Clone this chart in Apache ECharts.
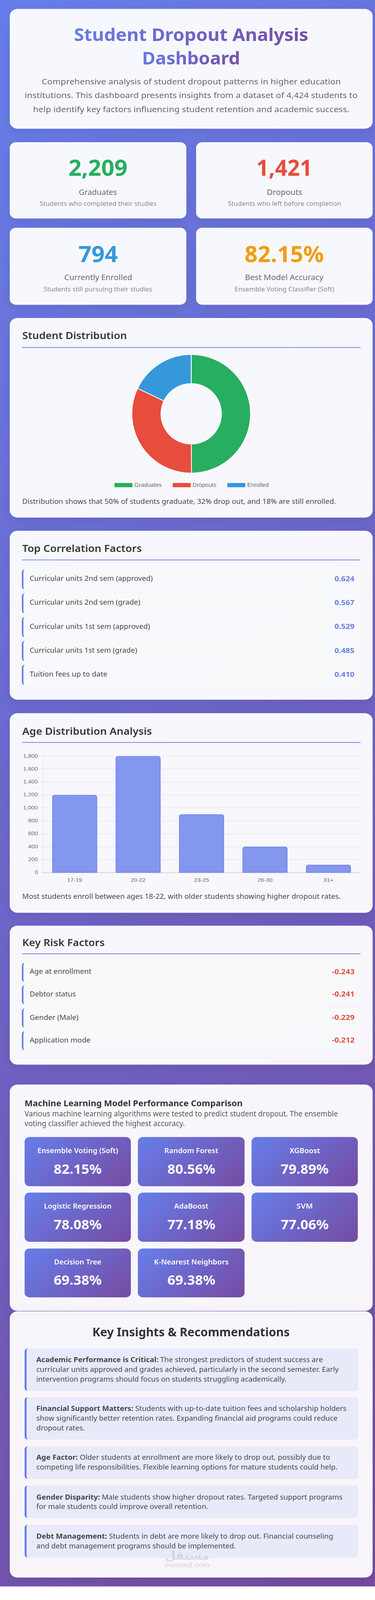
<!DOCTYPE html>
<html><head><meta charset="utf-8">
<script src="https://cdn.jsdelivr.net/npm/echarts@6/dist/echarts.min.js"></script>
<style>
html,body{margin:0;padding:0;background:#fff;font-family:"Noto Sans",sans-serif;overflow:hidden}
#frame{position:relative;width:960px;height:100vh;overflow:hidden}
#page{position:absolute;left:0;top:0;width:960px;height:4489px;overflow:hidden;transform-origin:0 0}
#bg{position:absolute;left:0;top:0;width:960px;height:4451px;background:linear-gradient(135deg,#667eea 0%,#764ba2 100%)}
.box{position:absolute;box-sizing:border-box}
.card{background:rgba(255,255,255,.95);border-radius:20px;box-shadow:0 8px 30px rgba(0,0,0,.08)}
.t{position:absolute;white-space:nowrap;line-height:1}
.item{background:#f8f9fb;border-left:4px solid #667eea;border-radius:8px}
.tile{background:linear-gradient(135deg,#667eea,#764ba2);border-radius:13px}
.ins{background:rgba(102,126,234,.1);border-left:5px solid #667eea;border-radius:8px}
.rule{background:#667eea;height:2px}
</style></head><body>
<div id="frame"><div id="page">
<div id="bg"></div>
<div id="root"></div>
<div id="pie" class="box" style="left:56px;top:985px;width:867px;height:390px"></div>
<div id="bar" class="box" style="left:56px;top:2100px;width:867px;height:390px"></div>
</div></div>
<script>
// the window may be shorter than the 4489px reference: fit the full page to it
const fitK=Math.min(1,innerHeight/4489);
document.getElementById('page').style.transform=`scaleY(${fitK})`;
// ---- data ----
const pageTitle=["Student Dropout Analysis","Dashboard"];
const pageIntro=["Comprehensive analysis of student dropout patterns in higher education","institutions. This dashboard presents insights from a dataset of 4,424 students to","help identify key factors influencing student retention and academic success."];
const statValues=["2,209","1,421","794","82.15%"];
const statLabels=["Graduates","Dropouts","Currently Enrolled","Best Model Accuracy"];
const statNotes=["Students who completed their studies","Students who left before completion","Students still pursuing their studies","Ensemble Voting Classifier (Soft)"];
const statColors=["#27ae60","#e74c3c","#3498db","#f39c12"];
const pieNames=["Graduates","Dropouts","Enrolled"];
const pieValues=[2209,1421,794];
const pieColors=["#27ae60","#e74c3c","#3498db"];
const corrNames=["Curricular units 2nd sem (approved)","Curricular units 2nd sem (grade)","Curricular units 1st sem (approved)","Curricular units 1st sem (grade)","Tuition fees up to date"];
const corrValues=["0.624","0.567","0.529","0.485","0.410"];
const ageCategories=["17-19","20-22","23-25","26-30","31+"];
const ageValues=[1200,1800,900,400,120];
const riskNames=["Age at enrollment","Debtor status","Gender (Male)","Application mode"];
const riskValues=["-0.243","-0.241","-0.229","-0.212"];
const modelNames=["Ensemble Voting (Soft)","Random Forest","XGBoost","Logistic Regression","AdaBoost","SVM","Decision Tree","K-Nearest Neighbors"];
const modelScores=["82.15%","80.56%","79.89%","78.08%","77.18%","77.06%","69.38%","69.38%"];
const insights=[
 ["<b>Academic Performance is Critical:</b> The strongest predictors of student success are","curricular units approved and grades achieved, particularly in the second semester. Early","intervention programs should focus on students struggling academically."],
 ["<b>Financial Support Matters:</b> Students with up-to-date tuition fees and scholarship holders","show significantly better retention rates. Expanding financial aid programs could reduce","dropout rates."],
 ["<b>Age Factor:</b> Older students at enrollment are more likely to drop out, possibly due to","competing life responsibilities. Flexible learning options for mature students could help."],
 ["<b>Gender Disparity:</b> Male students show higher dropout rates. Targeted support programs","for male students could improve overall retention."],
 ["<b>Debt Management:</b> Students in debt are more likely to drop out. Financial counseling","and debt management programs should be implemented."]];

// ---- layout helpers ----
const root=document.getElementById('root');
function B(cls,x,y,x2,y2,extra){const d=document.createElement('div');d.className='box '+cls;d.style.cssText=`left:${x}px;top:${y}px;width:${x2-x}px;height:${y2-y}px;`+(extra||'');root.appendChild(d);return d;}
function T(html,x,cy,size,weight,color,align,w,extra){
 const d=document.createElement('div');d.className='t';d.innerHTML=html;
 d.style.cssText=`font-size:${size}px;font-weight:${weight};color:${color};top:${cy-size*0.58}px;left:0;`+(extra||'');
 root.appendChild(d);
 const ow=d.getBoundingClientRect().width;
 const left=align==='c'?x-ow/2:align==='r'?x-ow:x;
 d.style.left=left+'px';
 if(w){d.style.transformOrigin=align==='c'?'center':align==='r'?'right':'left';d.style.transform=`scaleX(${w/ow})`;}
 return d;
}
// header
B('card',25,25,954,361);
const grad='background:linear-gradient(135deg,#667eea,#764ba2);-webkit-background-clip:text;background-clip:text;color:transparent;padding:0 0 10px;';
T(pageTitle[0],489.5,100,49,700,'#667eea','c',600,grad);
T(pageTitle[1],489.5,166,49,700,'#6f5fc0','c',251,grad);
const introW=[766,852,810],introY=[230,268,307];
pageIntro.forEach((s,i)=>T(s,489.5,introY[i],22,400,'#666','c',introW[i]));
// stats
const sx=[[25,477],[502,954]],sy=[[399,613],[639,855]];
const valW=[151,143,101,203],labW=[98,91,174,201],noteW=[299,290,278,255];
const valY=[474,715.5],labY=[540,779],noteY=[572,812];
statValues.forEach((v,i)=>{const c=i%2,r=i>>1,cx=(sx[c][0]+sx[c][1])/2;
 B('card',sx[c][0],sy[r][0],sx[c][1],sy[r][1],'border-radius:16px');
 T(v,cx,valY[r],62,700,statColors[i],'c',valW[i]);
 T(statLabels[i],cx,labY[r],22,400,'#666','c',labW[i]);
 T(statNotes[i],cx,noteY[r],18,400,'#888','c',noteW[i]);
});
function sect(title,top,bottom,cy,ry,w){B('card',25,top,954,bottom);T(title,56.5,cy,27,600,'#333','l',w);B('rule',56,ry,923,ry+2);}
sect('Student Distribution',892,1452,943,973.5,268);
T('Distribution shows that 50% of students graduate, 32% drop out, and 18% are still enrolled.',56.5,1409,20,400,'#444','l',803);
sect('Top Correlation Factors',1489,1963,1541,1570,306);
const corrW=[315,283,308,275,199];
corrNames.forEach((n,i)=>{const y=1597+i*67;B('item',56,y,923,y+57.4);T(n,76,y+28.5,19,400,'#444','l',corrW[i]);T(corrValues[i],907.5,y+28.5,20,700,'#667eea','r',51);});
sect('Age Distribution Analysis',2001,2561,2053,2082,332);
T('Most students enroll between ages 18-22, with older students showing higher dropout rates.',56.5,2517,20,400,'#444','l',815);
sect('Key Risk Factors',2597,2987,2646,2674.5,211);
const riskW=[158,118,125,156],riskY=[2700.5,2764,2829,2893];
riskNames.forEach((n,i)=>{const y=riskY[i];B('item',56,y,923,y+54.2);T(n,76,y+27,19,400,'#444','l',riskW[i]);T(riskValues[i],907.5,y+27,20,700,'#e74c3c','r',58);});
// models
B('card',25,3043,954,3678);
T('Machine Learning Model Performance Comparison',63,3097,24,700,'#333','l',558);
T('Various machine learning algorithms were tested to predict student dropout. The ensemble',63,3126,21,400,'#555','l',802);
T('voting classifier achieved the highest accuracy.',63,3154,21,400,'#555','l',410);
const mx=[[63,335],[353,626],[644,916]],my=[[3190,3328],[3346,3484],[3503,3640]];
const nameW=[207,138,78,173,88,42,121,191];
const nameY=[3230,3386,3543],scoreY=[3281,3437,3593];
modelNames.forEach((n,i)=>{const c=i%3,r=Math.floor(i/3),cx=(mx[c][0]+mx[c][1])/2;
 B('tile',mx[c][0],my[r][0],mx[c][1],my[r][1]);
 T(n,cx,nameY[r],20,600,'#fff','c',nameW[i]);
 T(modelScores[i],cx,scoreY[r],38,700,'#fff','c',123);
});
// insights
B('card',25,3678.5,954,4426);
T('Key Insights &amp; Recommendations',489.5,3739,33,700,'#333','c',505);
const insBox=[[3783,3902],[3920,4039],[4058,4149],[4168,4259],[4278,4370]];
const insY=[[3817,3844,3871],[3954,3981,4008],[4091,4118],[4202,4229],[4312,4339]];
const insW=[[733.5,774,640.5],[794,771,124],[752,771],[784,440],[760,511]];
insights.forEach((lines,i)=>{B('ins',63,insBox[i][0],917,insBox[i][1]);
 lines.forEach((s,j)=>T(s,93,insY[i][j],20,400,'#444','l',insW[i][j]));});
// watermark
T('مستقل',479,4367,34,700,'rgba(120,120,130,.2)','c',114,'font-family:"DejaVu Sans",sans-serif');
T('mostaql.com',479,4392,18,400,'rgba(120,120,130,.28)','c',116,'font-family:"Liberation Sans",sans-serif');

// ---- charts ----
const base='"Liberation Sans",Arial,sans-serif';
// the donut stays round: undo the page's vertical fit for its own chart box
const pieEl=document.getElementById('pie');
pieEl.style.transformOrigin='433.5px 176px';
pieEl.style.transform=`scaleY(${1/fitK})`;
const rootK=Math.sqrt(fitK);
echarts.init(pieEl,null,{renderer:'canvas'}).setOption({animation:false,
 legend:{show:true,top:176+193.5*fitK-6.5,left:'center',itemWidth:48,itemHeight:13,itemGap:26,icon:'rect',
  textStyle:{fontFamily:base,fontSize:15,color:'#666',padding:[0,0,0,-1]},data:pieNames},
 series:[{type:'pie',center:[433.5,176],radius:[81*rootK,159*rootK],startAngle:90,clockwise:true,label:{show:false},labelLine:{show:false},
  itemStyle:{borderColor:'#fff',borderWidth:2},
  data:pieNames.map((n,i)=>({name:n,value:pieValues[i],itemStyle:{color:pieColors[i]}}))}]});
echarts.init(document.getElementById('bar'),null,{renderer:'canvas'}).setOption({animation:false,
 grid:{left:54,top:21.4,width:812,height:326.6},
 xAxis:{type:'category',data:ageCategories,axisTick:{show:false},axisLine:{lineStyle:{color:'rgba(0,0,0,.25)',width:1}},
  axisLabel:{fontFamily:base,fontSize:15,color:'#666',margin:14},splitLine:{show:false}},
 yAxis:{type:'value',min:0,max:1800,interval:200,
  axisLine:{show:true,lineStyle:{color:'rgba(0,0,0,.1)'}},axisTick:{show:true,length:9,lineStyle:{color:'rgba(0,0,0,.1)'}},
  splitLine:{lineStyle:{color:'rgba(0,0,0,.1)',width:1.2}},
  axisLabel:{fontFamily:base,fontSize:15,color:'#666',margin:13,formatter:v=>v.toLocaleString('en-US')}},
 series:[{type:'bar',data:ageValues,barWidth:115,itemStyle:{color:'rgba(102,126,234,.8)',borderColor:'#667eea',borderWidth:1.6,borderRadius:[5,5,0,0]}}]});
</script>
</body></html>
